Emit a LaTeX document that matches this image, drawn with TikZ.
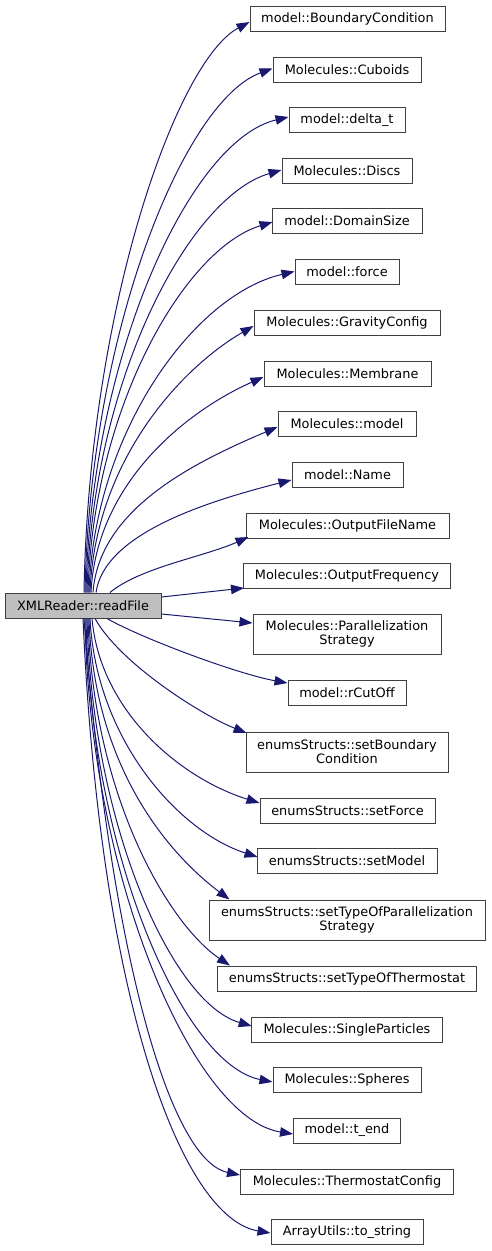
\documentclass[tikz,border=0pt]{standalone}
\usepackage{fontspec}
\setmainfont{DejaVu Sans}
\usetikzlibrary{arrows.meta}
\definecolor{edgec}{HTML}{191970}
\definecolor{boxc}{HTML}{404040}
\definecolor{rootc}{HTML}{BFBFBF}
\begin{document}
\begin{tikzpicture}[x=1pt,y=-1pt,
  box/.style={draw=boxc, fill=white, line width=1pt, minimum height=25pt, inner sep=0pt,
    font=\fontsize{12.9}{14}\selectfont, align=center},
  tall/.style={minimum height=40pt},
  edge/.style={draw=edgec, line width=1pt, -{Triangle[length=13pt,width=9.5pt]}}]
\useasboundingbox (0,0) rectangle (491,1251);
% root
\node[box, fill=rootc, minimum width=156pt] (rf) at (83,605.5) {XMLReader::readFile};
% targets
\node[box, minimum width=195pt] (n1) at (347.5,18.5) {model::BoundaryCondition};
\node[box, minimum width=148pt] (n2) at (347,69.5) {Molecules::Cuboids};
\node[box, minimum width=116pt] (n3) at (347,120) {model::delta\_t};
\node[box, minimum width=130pt] (n4) at (347,170.5) {Molecules::Discs};
\node[box, minimum width=150pt] (n5) at (347,221) {model::DomainSize};
\node[box, minimum width=104pt] (n6) at (347,271.5) {model::force};
\node[box, minimum width=186pt] (n7) at (347,322.5) {Molecules::GravityConfig};
\node[box, minimum width=167pt] (n8) at (347.5,373.5) {Molecules::Membrane};
\node[box, minimum width=138pt] (n9) at (347,424) {Molecules::model};
\node[box, minimum width=111pt] (n10) at (347.5,474.5) {model::Name};
\node[box, minimum width=203pt] (n11) at (347.5,525.5) {Molecules::OutputFileName};
\node[box, minimum width=207pt] (n12) at (347,575.5) {Molecules::OutputFrequency};
\node[box, tall, minimum width=188pt] (n13) at (347,634) {Molecules::Parallelization\\Strategy};
\node[box, minimum width=118pt] (n14) at (347,693) {model::rCutOff};
\node[box, tall, minimum width=202pt] (n15) at (347,752) {enumsStructs::setBoundary\\Condition};
\node[box, minimum width=175pt] (n16) at (347.5,810.5) {enumsStructs::setForce};
\node[box, minimum width=180pt] (n17) at (347,861) {enumsStructs::setModel};
\node[box, tall, minimum width=276pt] (n18) at (347,920) {enumsStructs::setTypeOfParallelization\\Strategy};
\node[box, minimum width=259pt] (n19) at (347,978.5) {enumsStructs::setTypeOfThermostat};
\node[box, minimum width=191pt] (n20) at (347,1029.5) {Molecules::SingleParticles};
\node[box, minimum width=148pt] (n21) at (347,1079.5) {Molecules::Spheres};
\node[box, minimum width=107pt] (n22) at (347,1130.5) {model::t\_end};
\node[box, minimum width=213pt] (n23) at (347,1181.5) {Molecules::ThermostatConfig};
\node[box, minimum width=152pt] (n24) at (347,1232) {ArrayUtils::to\_string};
% edges above
\draw[edge] ([shift={(1,0)}]rf.north) .. controls +(5,-285) and +(-73,39) .. ([shift={(0,3.5)}]n1.west);
\draw[edge] ([shift={(2,0)}]rf.north) .. controls +(5,-262) and +(-88,32) .. ([shift={(0,-1)}]n2.west);
\draw[edge] ([shift={(3,0)}]rf.north) .. controls +(5,-238) and +(-98,23) .. ([shift={(0,-3)}]n3.west);
\draw[edge] ([shift={(4,0)}]rf.north) .. controls +(5,-211) and +(-93,27) .. ([shift={(0,-0.5)}]n4.west);
\draw[edge] ([shift={(5,0)}]rf.north) .. controls +(5,-185) and +(-88,27) .. ([shift={(1,1)}]n5.west);
\draw[edge] ([shift={(6,0)}]rf.north) .. controls +(5,-161) and +(-100,23) .. ([shift={(0,0)}]n6.west);
\draw[edge] ([shift={(7,0)}]rf.north) .. controls +(5,-133) and +(-71,41) .. ([shift={(0,3.5)}]n7.west);
\draw[edge] ([shift={(8,0)}]rf.north) .. controls +(5,-108) and +(-79,35) .. ([shift={(0,3.5)}]n8.west);
\draw[edge] ([shift={(10,0)}]rf.north) .. controls +(6,-83) and +(-85,36) .. ([shift={(0,3)}]n9.west);
\draw[edge] ([shift={(13,0)}]rf.north) .. controls +(8,-56) and +(-95,24) .. ([shift={(0,5.5)}]n10.west);
\draw[edge] ([shift={(27,0)}]rf.north) .. controls +(30,-25) and +(-45,20) .. ([shift={(3,11.5)}]n11.west);
\draw[edge] ([shift={(0,-8.5)}]rf.east) -- ([shift={(1,12.5)}]n12.west);
\draw[edge] ([shift={(0,8.5)}]rf.east) -- ([shift={(0,-11)}]n13.west);
% edges below
\draw[edge] ([shift={(24,0)}]rf.south) .. controls +(35,20) and +(-50,-9) .. ([shift={(0,-10)}]n14.west);
\draw[edge] ([shift={(12,0)}]rf.south) .. controls +(25,45) and +(-45,-18) .. ([shift={(1,-19)}]n15.west);
\draw[edge] ([shift={(9,0)}]rf.south) .. controls +(8,92) and +(-80,-25) .. ([shift={(0,-7.5)}]n16.west);
\draw[edge] ([shift={(7,0)}]rf.south) .. controls +(6,120) and +(-80,-26) .. ([shift={(1,-4)}]n17.west);
\draw[edge] ([shift={(6,0)}]rf.south) .. controls +(5,150) and +(-60,-45) .. ([shift={(21,0)}]n18.north west);
\draw[edge] ([shift={(5,0)}]rf.south) .. controls +(5,180) and +(-60,-40) .. ([shift={(13,0)}]n19.north west);
\draw[edge] ([shift={(4,0)}]rf.south) .. controls +(5,205) and +(-80,-23) .. ([shift={(0.7,-3.5)}]n20.west);
\draw[edge] ([shift={(3,0)}]rf.south) .. controls +(4,232) and +(-90,-18) .. ([shift={(0,2.5)}]n21.west);
\draw[edge] ([shift={(2,0)}]rf.south) .. controls +(4,258) and +(-100,-16) .. ([shift={(0,3.5)}]n22.west);
\draw[edge] ([shift={(1,0)}]rf.south) .. controls +(26,332) and +(-71,-15) .. ([shift={(0,-6.5)}]n23.west);
\draw[edge] ([shift={(0,0)}]rf.south) .. controls +(17,382) and +(-89,-15) .. ([shift={(0,1)}]n24.west);
\end{tikzpicture}
\end{document}
